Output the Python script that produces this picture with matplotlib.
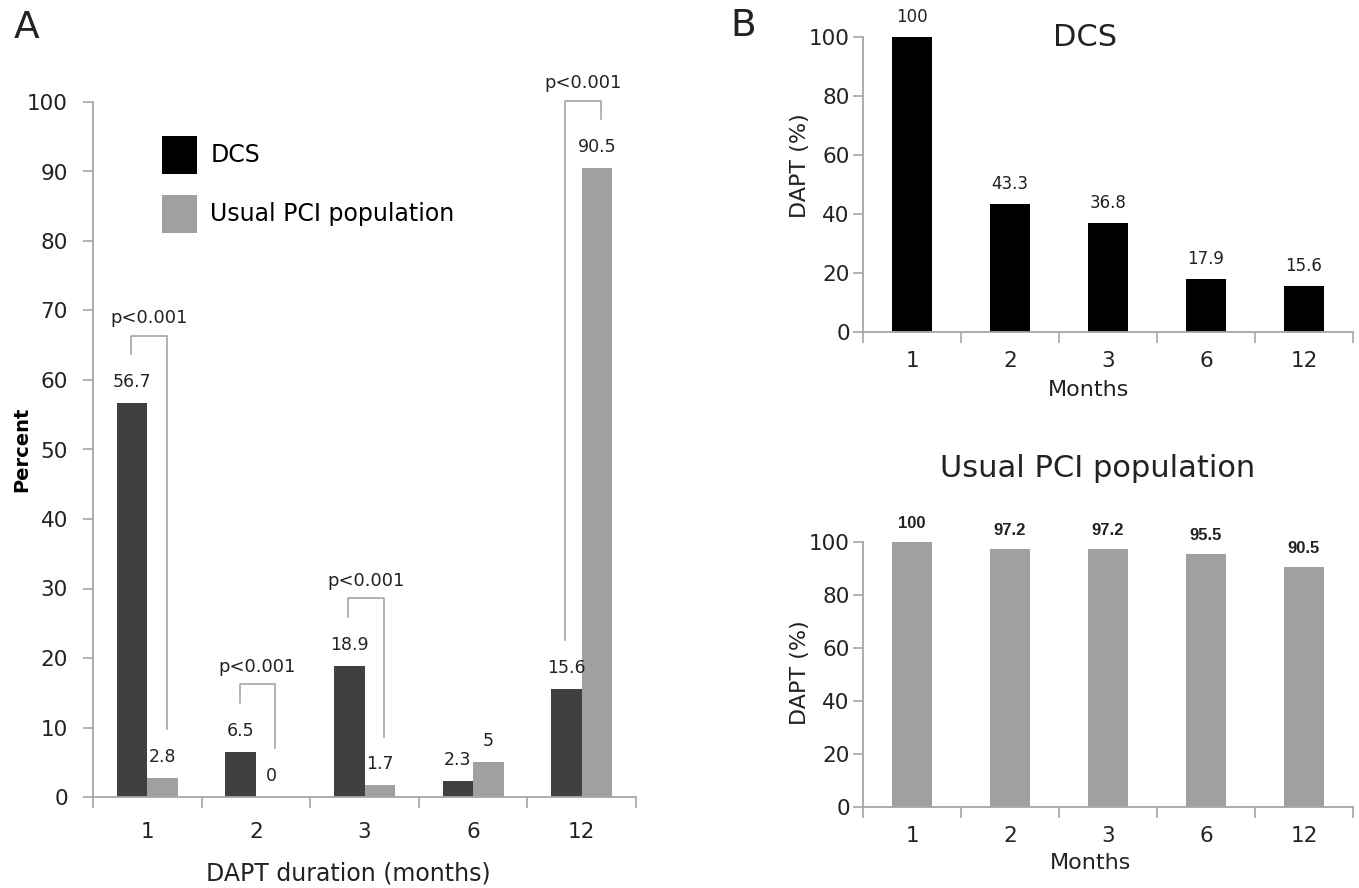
import matplotlib
matplotlib.use("Agg")
import matplotlib.pyplot as plt
from matplotlib.patches import Patch
import numpy as np

# data
months = ["1", "2", "3", "6", "12"]
dcs_pct = [56.7, 6.5, 18.9, 2.3, 15.6]
usual_pct = [2.8, 0, 1.7, 5, 90.5]
p_groups = [0, 1, 2, 4]
p_label = "p<0.001"
dcs_ongoing = [100, 43.3, 36.8, 17.9, 15.6]
usual_ongoing = [100, 97.2, 97.2, 95.5, 90.5]

plt.rcParams["font.family"] = ["DejaVu Sans"]
W, H = 1359, 888
AXC = "#a6a6a6"
TXT = "#222222"


def style_axis(ax, ypad, xpad, ytop, ystep):
    for s in ("top", "right"):
        ax.spines[s].set_visible(False)
    for s in ("left", "bottom"):
        ax.spines[s].set_color(AXC)
        ax.spines[s].set_linewidth(1.3)
    ax.set_xlim(-0.5, 4.5)
    ax.set_ylim(0, ytop)
    ax.set_yticks(np.arange(0, ytop + 1, ystep))
    ax.set_xticks(np.arange(-0.5, 5, 1))
    ax.set_xticklabels([])
    ax.set_xticks(np.arange(5), minor=True)
    ax.set_xticklabels(months, minor=True)
    ax.tick_params(axis="y", direction="out", length=7, width=1.2, color=AXC,
                   labelsize=15.5, labelcolor=TXT, pad=ypad)
    ax.tick_params(axis="x", which="major", direction="out", length=8, width=1.2, color=AXC)
    ax.tick_params(axis="x", which="minor", length=0, pad=xpad, labelsize=15.5, labelcolor=TXT)


fig = plt.figure(figsize=(W / 100, H / 100), dpi=100)

# ---- panel A
axA = fig.add_axes([93 / W, 1 - 797 / H, 543 / W, 695 / H])
x = np.arange(len(months))
w = 0.28
axA.bar(x - w / 2, dcs_pct, w, color="#404040")
axA.bar(x + w / 2, usual_pct, w, color="#a0a0a0")
style_axis(axA, 11, 18, 100, 10)

for i in range(len(months)):
    for xx, v in ((x[i] - w / 2, dcs_pct[i]), (x[i] + w / 2, usual_pct[i])):
        axA.annotate(f"{v:g}", (xx, v), xytext=(0, 15), textcoords="offset points",
                     ha="center", va="center", fontsize=12.5, color=TXT)

for i in p_groups:
    lx, rx = i - 0.15, i + 0.18
    lb, rb = dcs_pct[i] + 7, usual_pct[i] + 7
    top = max(lb, rb) + 2.7
    axA.plot([lx, lx, rx, rx], [lb, top, top, rb], color=AXC, lw=1.2, clip_on=False)
    axA.text((lx + rx) / 2, top + 2.5, p_label, ha="center", va="center",
             fontsize=13, color=TXT, clip_on=False)

axA.legend(handles=[Patch(facecolor="black", label="DCS"),
                    Patch(facecolor="#a0a0a0", label="Usual PCI population")],
           loc="upper left", bbox_to_anchor=((162 - 93) / 543, (797 - 136) / 695),
           frameon=False, fontsize=17, handlelength=1.5, handleheight=2.1,
           handletextpad=0.55, labelspacing=0.89, borderpad=0, borderaxespad=0)

axA.set_xlabel("DAPT duration (months)", fontsize=17, color=TXT)
axA.xaxis.set_label_coords(0.47, (797 - 873) / 695)
axA.xaxis.label.set_va("center")
axA.set_ylabel("Percent", fontsize=14, fontweight="bold", color="black")
axA.yaxis.set_label_coords((22 - 93) / 543, (797 - 449) / 695)
axA.yaxis.label.set_va("center")

# ---- panel B, top
axB1 = fig.add_axes([863 / W, 1 - 332 / H, 490 / W, 295 / H])
axB1.bar(x, dcs_ongoing, 0.4, color="black")
style_axis(axB1, 2.5, 14, 100, 20)
for i, v in enumerate(dcs_ongoing):
    axB1.annotate(f"{v:g}", (x[i], v), xytext=(0, 14.4), textcoords="offset points",
                  ha="center", va="center", fontsize=12, color=TXT, annotation_clip=False)
axB1.text(0.453, 1.0, "DCS", transform=axB1.transAxes, ha="center", va="center",
          fontsize=22, color=TXT)
axB1.set_ylabel("DAPT (%)", fontsize=16, color=TXT)
axB1.yaxis.set_label_coords(-0.129, 0.563)
axB1.yaxis.label.set_va("center")
axB1.set_xlabel("Months", fontsize=16, color=TXT)
axB1.xaxis.set_label_coords(0.461, -0.197)
axB1.xaxis.label.set_va("center")

# ---- panel B, bottom
axB2 = fig.add_axes([863 / W, 1 - 807 / H, 490 / W, 265 / H])
axB2.bar(x, usual_ongoing, 0.4, color="#a0a0a0")
style_axis(axB2, 2.5, 14, 100, 20)
for i, v in enumerate(usual_ongoing):
    axB2.annotate(f"{v:g}", (x[i], v), xytext=(0, 13.3), textcoords="offset points",
                  ha="center", va="center", fontsize=12, fontweight="bold",
                  family="Liberation Sans", color=TXT, annotation_clip=False)
axB2.text(0.478, 1.279, "Usual PCI population", transform=axB2.transAxes,
          ha="center", va="center", fontsize=22, color=TXT)
axB2.set_ylabel("DAPT (%)", fontsize=16, color=TXT)
axB2.yaxis.set_label_coords(-0.129, 0.506)
axB2.yaxis.label.set_va("center")
axB2.set_xlabel("Months", fontsize=16, color=TXT)
axB2.xaxis.set_label_coords(0.465, -0.211)
axB2.xaxis.label.set_va("center")

fig.text(27 / W, 1 - 28 / H, "A", ha="center", va="center", fontsize=27, color=TXT)
fig.text(743 / W, 1 - 26 / H, "B", ha="center", va="center", fontsize=27, color=TXT)

fig.savefig("out.png", dpi=100)
